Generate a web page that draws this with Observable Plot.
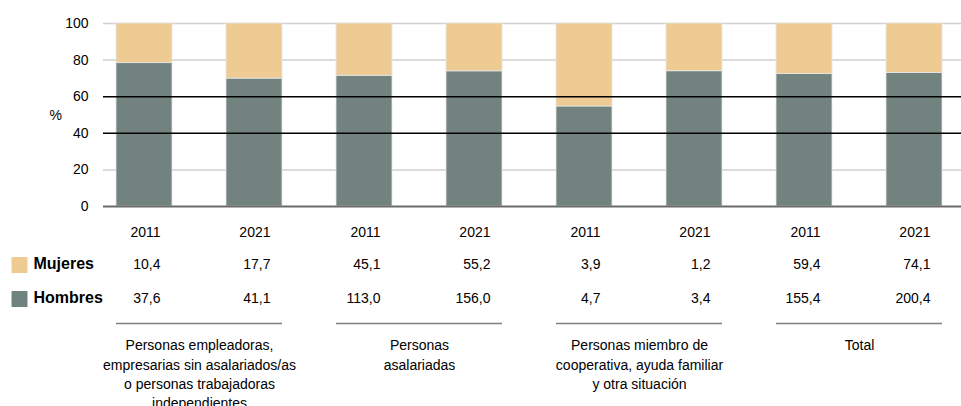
<!DOCTYPE html>
<html>
<head>
<meta charset="utf-8">
<script src="https://cdn.jsdelivr.net/npm/d3@7"></script>
<script src="https://cdn.jsdelivr.net/npm/@observablehq/plot@0.6"></script>
<style>
  html, body { margin: 0; padding: 0; background: #fff; }
  #chart svg { display: block; }
</style>
</head>
<body>
<div id="chart"></div>
<script>
const groups = [
  "Personas empleadoras,\nempresarias sin asalariados/as\no personas trabajadoras\nindependientes",
  "Personas\nasalariadas",
  "Personas miembro de\ncooperativa, ayuda familiar\ny otra situación",
  "Total"
];
const years = ["2011", "2021"];
const mujeres = [10.4, 17.7, 45.1, 55.2, 3.9, 1.2, 59.4, 74.1];
const hombres = [37.6, 41.1, 113.0, 156.0, 4.7, 3.4, 155.4, 200.4];
const series = ["Mujeres", "Hombres"];
const colors = ["#EDCB93", "#72827F"];
const yTicks = [0, 20, 40, 60, 80, 100];
const lightGrid = [20, 80, 100];
const darkGrid = [40, 60];

const fmt = v => v.toFixed(1).replace(".", ",");

const rows = mujeres.map((m, i) => ({
  key: `${Math.floor(i / 2)}-${years[i % 2]}`,
  year: years[i % 2],
  mujeres: m,
  hombres: hombres[i]
}));
const long = rows.flatMap(r => [
  {key: r.key, sexo: "Hombres", value: r.hombres},
  {key: r.key, sexo: "Mujeres", value: r.mujeres}
]);
const groupRows = groups.map((label, g) => ({
  label,
  first: rows[g * 2].key,
  last: rows[g * 2 + 1].key
}));

const font = "'Liberation Sans', Arial, sans-serif";

const chart = Plot.plot({
  width: 961,
  height: 406,
  marginTop: 23,
  marginBottom: 200,
  marginLeft: 103,
  marginRight: 0,
  style: {fontFamily: font, fontSize: "14px", color: "#000", background: "#fff"},
  x: {type: "band", domain: rows.map(r => r.key), range: [114, 944], paddingInner: 0.49, paddingOuter: 0, axis: null},
  y: {domain: [0, 1], ticks: yTicks.map(t => t / 100), tickFormat: d => String(Math.round(d * 100)), tickSize: 0, tickPadding: 15, label: null},
  color: {domain: series, range: colors},
  marks: [
    Plot.ruleY(lightGrid, {y: d => d / 100, stroke: "#d0d0d0", strokeWidth: 1.5}),
    Plot.barY(long, Plot.stackY({
      offset: "normalize",
      order: ["Hombres", "Mujeres"],
      x: "key", y: "value", fill: "sexo",
      stroke: "#e6e6e6", strokeWidth: 0.8
    })),
    Plot.ruleY(darkGrid, {y: d => d / 100, stroke: "#000", strokeWidth: 1.5}),
    Plot.ruleY([0], {stroke: "#6b6b6b", strokeWidth: 2}),
    Plot.text(["%"], {text: d => d, frameAnchor: "left", dx: -54, dy: 1, fontSize: 14}),
    Plot.text(rows, {x: "key", text: "year", frameAnchor: "bottom", dy: 30, dx: 16, textAnchor: "end", fontSize: 14}),
    Plot.text(rows, {x: "key", text: d => fmt(d.mujeres), frameAnchor: "bottom", dy: 62, dx: 16, textAnchor: "end", fontSize: 14}),
    Plot.text(rows, {x: "key", text: d => fmt(d.hombres), frameAnchor: "bottom", dy: 96, dx: 16, textAnchor: "end", fontSize: 14}),
    Plot.ruleY(groupRows, {x1: "first", x2: "last", y: () => 0, dy: 117, stroke: "#7f7f7f", strokeWidth: 1.3}),
    Plot.text(groupRows, {x: "first", dx: 55, text: "label", frameAnchor: "bottom", dy: 130, lineAnchor: "top", lineHeight: 1.38, fontSize: 14}),
    Plot.dot([series[0]], {frameAnchor: "bottom-left", dx: -84, dy: 58.5, symbol: "square", r: 9, fill: colors[0], stroke: "none"}),
    Plot.dot([series[1]], {frameAnchor: "bottom-left", dx: -84, dy: 92.5, symbol: "square", r: 9, fill: colors[1], stroke: "none"}),
    Plot.text([series[0]], {text: d => d, frameAnchor: "bottom-left", dx: -70, dy: 62, textAnchor: "start", fontWeight: "bold", fontSize: 16}),
    Plot.text([series[1]], {text: d => d, frameAnchor: "bottom-left", dx: -70, dy: 96, textAnchor: "start", fontWeight: "bold", fontSize: 16})
  ]
});
document.getElementById("chart").appendChild(chart);
</script>
</body>
</html>
